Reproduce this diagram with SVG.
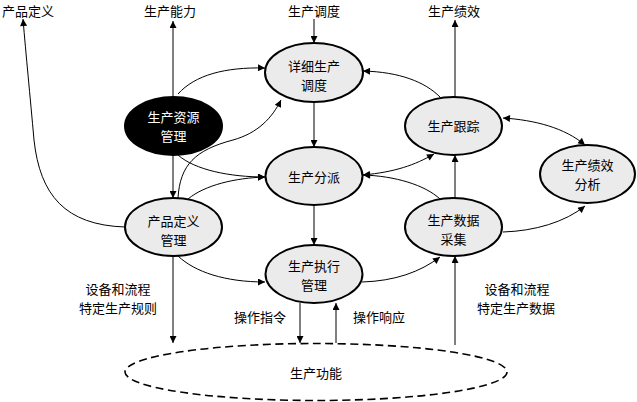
<svg xmlns="http://www.w3.org/2000/svg" width="637" height="402" viewBox="0 0 637 402">
<style>
text{font-family:"Noto Sans CJK SC","Liberation Serif",serif;font-size:13px;text-anchor:middle;fill:#000}
.node{fill:#ebebeb;stroke:#000;stroke-width:2}
.dark{fill:#000;stroke:#000;stroke-width:2}
.wt{fill:#fff}
.c{fill:none;stroke:#000;stroke-width:1}
.dash{fill:#fff;stroke:#000;stroke-width:1.6;stroke-dasharray:8 4.5}
</style>
<defs>
<marker id="a" viewBox="0 0 10 10" refX="10" refY="5" markerWidth="9" markerHeight="7" markerUnits="userSpaceOnUse" orient="auto">
<path d="M0,0 L10,5 L0,10 Z" fill="#000"/>
</marker>
<marker id="s" viewBox="0 0 10 10" refX="0" refY="5" markerWidth="9" markerHeight="7" markerUnits="userSpaceOnUse" orient="auto">
<path d="M10,0 L0,5 L10,10 Z" fill="#000"/>
</marker>
</defs>
<rect width="637" height="402" fill="#fff"/>

<g id="labels">
<text x="28" y="15.5">产品定义</text>
<text x="170" y="15.5">生产能力</text>
<text x="314" y="15.5">生产调度</text>
<text x="454" y="15.5">生产绩效</text>
<text x="118" y="293.5">设备和流程</text>
<text x="118" y="312.5">特定生产规则</text>
<text x="260" y="322">操作指令</text>
<text x="379" y="322">操作响应</text>
<text x="517" y="293.5">设备和流程</text>
<text x="516" y="312.5">特定生产数据</text>
</g>

<g id="connectors">
<path class="c" d="M173,97 L173,21" marker-end="url(#a)"/>
<path class="c" d="M314,19 L314,43" marker-end="url(#a)"/>
<path class="c" d="M314,102 L314,147" marker-end="url(#a)"/>
<path class="c" d="M314,205 L314,245" marker-end="url(#a)"/>
<path class="c" d="M173,155 L173,198" marker-end="url(#a)"/>
<path class="c" d="M178,94 C195,75 225,67 265,68" marker-end="url(#a)"/>
<path class="c" d="M178,155 C195,170 230,177 265,177" marker-end="url(#a)"/>
<path class="c" d="M188,199 C205,185 235,178 265,177" marker-end="url(#a)"/>
<path class="c" d="M178,198 C180,165 195,150 233,140 C258,133 272,118 281,100" marker-end="url(#a)"/>
<path class="c" d="M125,227 C65,225 40,195 34,140 C30,95 26,55 23,19" marker-end="url(#a)"/>
<path class="c" d="M173,256 L173,343" marker-end="url(#a)"/>
<path class="c" d="M178,256 C195,272 225,282 265,282" marker-end="url(#a)"/>
<path class="c" d="M300,303 L300,343" marker-end="url(#a)"/>
<path class="c" d="M336,343 L336,303" marker-end="url(#a)"/>
<path class="c" d="M362,282 C395,281 420,272 440,257" marker-end="url(#a)"/>
<path class="c" d="M455,198 L455,155" marker-end="url(#a)"/>
<path class="c" d="M455,345 L455,256" marker-end="url(#a)"/>
<path class="c" d="M440,199 C425,185 395,176 363,175" marker-end="url(#a)"/>
<path class="c" d="M363,175 C395,172 415,165 434,154" marker-end="url(#a)" marker-start="url(#s)"/>
<path class="c" d="M440,97 C425,82 400,72 363,71" marker-end="url(#a)"/>
<path class="c" d="M455,97 L455,20" marker-end="url(#a)"/>
<path class="c" d="M503,118 C535,120 565,128 585,145" marker-end="url(#a)" marker-start="url(#s)"/>
<path class="c" d="M503,232 C535,231 565,222 585,206" marker-end="url(#a)"/>
</g>

<g id="n-detail">
<ellipse class="node" cx="314" cy="72.5" rx="49" ry="29.5"/>
<text x="314" y="70.5">详细生产</text>
<text x="314" y="89.5">调度</text>
</g>
<g id="n-resource">
<ellipse class="dark" cx="173.5" cy="126" rx="48.5" ry="29"/>
<text class="wt" x="173.5" y="121.5">生产资源</text>
<text class="wt" x="173.5" y="140.5">管理</text>
</g>
<g id="n-dispatch">
<ellipse class="node" cx="314" cy="176" rx="48.5" ry="29"/>
<text x="314" y="182">生产分派</text>
</g>
<g id="n-tracking">
<ellipse class="node" cx="453.5" cy="126" rx="48.5" ry="29"/>
<text x="453.5" y="131">生产跟踪</text>
</g>
<g id="n-product">
<ellipse class="node" cx="173.5" cy="227" rx="48.5" ry="29"/>
<text x="173.5" y="225.5">产品定义</text>
<text x="173.5" y="244.5">管理</text>
</g>
<g id="n-execution">
<ellipse class="node" cx="314" cy="274" rx="48.5" ry="29"/>
<text x="314" y="270.5">生产执行</text>
<text x="314" y="289.5">管理</text>
</g>
<g id="n-collection">
<ellipse class="node" cx="453.5" cy="227" rx="48.5" ry="29"/>
<text x="453.5" y="224.5">生产数据</text>
<text x="453.5" y="243.5">采集</text>
</g>
<g id="n-analysis">
<ellipse class="node" cx="587.5" cy="174" rx="47.5" ry="29"/>
<text x="587.5" y="170">生产绩效</text>
<text x="587.5" y="189">分析</text>
</g>
<g id="n-function">
<ellipse class="dash" cx="316" cy="372" rx="191" ry="28.5"/>
<text x="316" y="378">生产功能</text>
</g>
</svg>
